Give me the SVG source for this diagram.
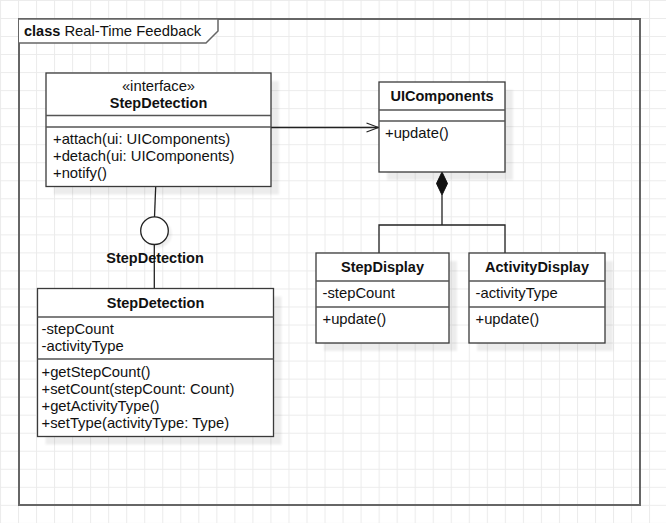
<svg xmlns="http://www.w3.org/2000/svg" width="666" height="523" viewBox="0 0 666 523">
<defs>
<pattern id="grid" patternUnits="userSpaceOnUse" x="0" y="0" width="18.03" height="18.03">
<path d="M0.5 0V18.03M0 0.5H18.03" stroke="#ebebeb" stroke-width="1" fill="none"/>
</pattern>
<filter id="sh" x="-10%" y="-10%" width="130%" height="130%">
<feGaussianBlur stdDeviation="1.2"/>
</filter>
<marker id="open" viewBox="0 0 14 12" refX="13" refY="6" markerWidth="14" markerHeight="12" markerUnits="userSpaceOnUse" orient="auto">
<path d="M1 1.5L13 6L1 10.5" fill="none" stroke="#222" stroke-width="1.2"/>
</marker>
</defs>
<style>
text{font-family:"Liberation Sans",Arial,Helvetica,sans-serif;font-size:14.8px;fill:#111}
.b{font-weight:bold;font-size:14.5px}
.c{text-anchor:middle}
.box{fill:#fff;stroke:#3a3a3a;stroke-width:1.3}
.div{stroke:#555;stroke-width:1.3}
.shadow{fill:#000;opacity:0.07;filter:url(#sh)}
.edge{fill:none;stroke:#222;stroke-width:1.3}
.frame{fill:none;stroke:#666;stroke-width:2}
</style>
<rect width="666" height="523" fill="#fff"/>
<rect width="666" height="523" fill="url(#grid)"/>

<g id="frame">
<rect class="frame" x="19" y="19" width="621" height="486"/>
<path d="M19 19H218V31L206 43H19" fill="#fff" stroke="#666" stroke-width="1.5"/>
<text x="24" y="36"><tspan class="b">class</tspan> Real-Time Feedback</text>
</g>

<g id="connectors">
<line class="edge" x1="271" y1="127.5" x2="378.5" y2="127.5" marker-end="url(#open)"/>
<path d="M442 172L447.5 183.5L442 195L436.5 183.5Z" fill="#111" stroke="#111" stroke-width="1"/>
<path class="edge" d="M442 195V225M379 253V225H505V253"/>
<line class="edge" x1="155.7" y1="186.5" x2="154.5" y2="217"/>
<line class="edge" x1="154.3" y1="245" x2="154.3" y2="288.5" stroke="#555"/>
</g>

<g id="lollipop">
<circle cx="158" cy="234" r="13.8" fill="#000" opacity="0.06" filter="url(#sh)"/>
<circle cx="154.5" cy="230.7" r="13.8" fill="#fff" stroke="#222" stroke-width="1.3"/>
<text class="b c" x="155" y="263">StepDetection</text>
</g>

<g id="iface">
<rect class="shadow" x="54" y="81" width="225" height="113.5"/>
<rect class="box" x="46" y="73" width="225" height="113.5"/>
<line class="div" x1="46" y1="115.5" x2="271" y2="115.5"/>
<line class="div" x1="46" y1="127" x2="271" y2="127"/>
<text class="c" x="158.5" y="91">«interface»</text>
<text class="b c" x="158.5" y="108">StepDetection</text>
<text x="53" y="144">+attach(ui: UIComponents)</text>
<text x="53" y="161">+detach(ui: UIComponents)</text>
<text x="53" y="178">+notify()</text>
</g>

<g id="uicomponents">
<rect class="shadow" x="387" y="90" width="126" height="90"/>
<rect class="box" x="379" y="82" width="126" height="90"/>
<line class="div" x1="379" y1="110" x2="505" y2="110"/>
<line class="div" x1="379" y1="121" x2="505" y2="121"/>
<text class="b c" x="442" y="101">UIComponents</text>
<text x="385" y="138">+update()</text>
</g>

<g id="stepdisplay">
<rect class="shadow" x="324" y="261" width="133" height="90"/>
<rect class="box" x="316" y="253" width="133" height="90"/>
<line class="div" x1="316" y1="281" x2="449" y2="281"/>
<line class="div" x1="316" y1="307" x2="449" y2="307"/>
<text class="b c" x="382.5" y="272">StepDisplay</text>
<text x="322.5" y="298">-stepCount</text>
<text x="322.5" y="324">+update()</text>
</g>

<g id="activitydisplay">
<rect class="shadow" x="477" y="261" width="136" height="90"/>
<rect class="box" x="469" y="253" width="136" height="90"/>
<line class="div" x1="469" y1="281" x2="605" y2="281"/>
<line class="div" x1="469" y1="307" x2="605" y2="307"/>
<text class="b c" x="537" y="272">ActivityDisplay</text>
<text x="475.5" y="298">-activityType</text>
<text x="475.5" y="324">+update()</text>
</g>

<g id="stepdetection">
<rect class="shadow" x="45.5" y="296.5" width="236" height="148"/>
<rect class="box" x="37.5" y="288.5" width="236" height="148"/>
<line class="div" x1="37.5" y1="317" x2="273.5" y2="317"/>
<line class="div" x1="37.5" y1="359" x2="273.5" y2="359"/>
<text class="b c" x="155.5" y="308">StepDetection</text>
<text x="41.5" y="334">-stepCount</text>
<text x="41.5" y="351">-activityType</text>
<text x="41.5" y="377">+getStepCount()</text>
<text x="41.5" y="394">+setCount(stepCount: Count)</text>
<text x="41.5" y="411">+getActivityType()</text>
<text x="41.5" y="428">+setType(activityType: Type)</text>
</g>
</svg>
